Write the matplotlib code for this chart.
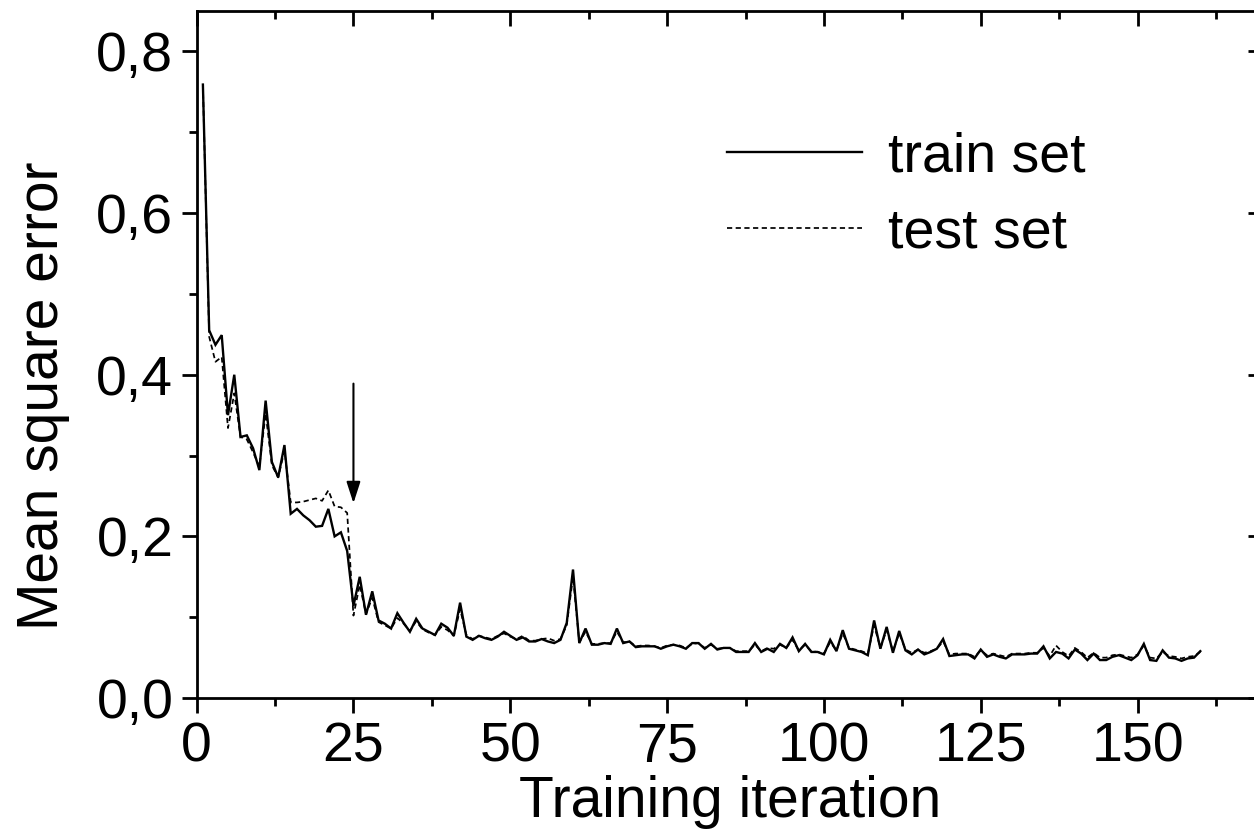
import matplotlib
matplotlib.use("Agg")
import matplotlib.pyplot as plt
from matplotlib.ticker import MultipleLocator, FuncFormatter
from matplotlib.lines import Line2D

plt.rcParams['font.family'] = ['Liberation Sans', 'DejaVu Sans']

iterations = list(range(1, 161))

train_mse = [
    0.759, 0.455, 0.437, 0.449, 0.350, 0.400, 0.323, 0.325, 0.309, 0.282,
    0.368, 0.292, 0.273, 0.313, 0.228, 0.234, 0.226, 0.220, 0.212, 0.213,
    0.234, 0.200, 0.205, 0.182, 0.114, 0.150, 0.103, 0.132, 0.096, 0.092,
    0.086, 0.105, 0.093, 0.082, 0.098, 0.086, 0.082, 0.078, 0.092, 0.087,
    0.077, 0.118, 0.076, 0.072, 0.077, 0.074, 0.072, 0.076, 0.082, 0.077,
    0.072, 0.075, 0.070, 0.070, 0.073, 0.070, 0.068, 0.072, 0.093, 0.159,
    0.068, 0.086, 0.066, 0.066, 0.068, 0.067, 0.086, 0.068, 0.070, 0.063,
    0.064, 0.064, 0.064, 0.061, 0.064, 0.066, 0.064, 0.061, 0.068, 0.068,
    0.061, 0.067, 0.060, 0.062, 0.062, 0.057, 0.057, 0.057, 0.068, 0.057,
    0.061, 0.057, 0.067, 0.062, 0.075, 0.058, 0.067, 0.057, 0.057, 0.054,
    0.072, 0.058, 0.084, 0.061, 0.059, 0.057, 0.053, 0.096, 0.061, 0.088,
    0.056, 0.083, 0.059, 0.054, 0.060, 0.054, 0.057, 0.061, 0.073, 0.052,
    0.053, 0.054, 0.054, 0.049, 0.060, 0.051, 0.054, 0.051, 0.049, 0.054,
    0.054, 0.054, 0.055, 0.055, 0.064, 0.049, 0.057, 0.055, 0.049, 0.060,
    0.055, 0.047, 0.055, 0.047, 0.047, 0.051, 0.053, 0.050, 0.047, 0.053,
    0.067, 0.047, 0.046, 0.059, 0.050, 0.049, 0.046, 0.049, 0.050, 0.058,
]

test_mse = [
    0.759, 0.447, 0.416, 0.422, 0.334, 0.377, 0.323, 0.320, 0.304, 0.286,
    0.352, 0.288, 0.273, 0.306, 0.242, 0.242, 0.243, 0.245, 0.247, 0.244,
    0.257, 0.237, 0.236, 0.229, 0.102, 0.140, 0.104, 0.124, 0.094, 0.090,
    0.086, 0.099, 0.092, 0.083, 0.095, 0.085, 0.081, 0.078, 0.088, 0.084,
    0.077, 0.110, 0.078, 0.073, 0.077, 0.075, 0.073, 0.077, 0.080, 0.076,
    0.073, 0.077, 0.071, 0.071, 0.073, 0.074, 0.071, 0.073, 0.090, 0.150,
    0.069, 0.082, 0.067, 0.067, 0.068, 0.068, 0.082, 0.069, 0.070, 0.064,
    0.065, 0.065, 0.064, 0.062, 0.065, 0.066, 0.065, 0.062, 0.067, 0.068,
    0.062, 0.066, 0.061, 0.062, 0.062, 0.058, 0.058, 0.058, 0.066, 0.058,
    0.062, 0.061, 0.066, 0.062, 0.072, 0.059, 0.066, 0.058, 0.057, 0.055,
    0.069, 0.059, 0.080, 0.062, 0.060, 0.058, 0.055, 0.090, 0.062, 0.084,
    0.058, 0.080, 0.060, 0.056, 0.060, 0.056, 0.058, 0.061, 0.070, 0.054,
    0.055, 0.055, 0.055, 0.051, 0.059, 0.053, 0.055, 0.053, 0.051, 0.055,
    0.055, 0.055, 0.056, 0.056, 0.062, 0.052, 0.065, 0.057, 0.052, 0.062,
    0.057, 0.050, 0.056, 0.050, 0.050, 0.053, 0.054, 0.052, 0.050, 0.054,
    0.065, 0.050, 0.049, 0.057, 0.052, 0.051, 0.049, 0.051, 0.052, 0.057,
]

arrow_x = 25
arrow_from = 0.389
arrow_to = 0.241

fs = 40

fig = plt.figure(figsize=(12.54, 8.4), dpi=100)
ax = fig.add_axes([0.1568, 0.1690, 0.8504, 0.8179])

ax.plot(iterations, train_mse, color='black', lw=1.7, solid_joinstyle='miter')
ax.plot(iterations, test_mse, color='black', lw=1.25, linestyle=(0, (3, 2)))

ax.annotate('', xy=(arrow_x, arrow_to), xytext=(arrow_x, arrow_from),
            arrowprops=dict(arrowstyle='-|>,head_length=1.3,head_width=0.42',
                            color='black', lw=1.5, shrinkA=0, shrinkB=0,
                            mutation_scale=10))

ax.set_xlim(0, 170)
ax.set_ylim(0, 0.85)

for s in ax.spines.values():
    s.set_linewidth(2)

ax.xaxis.set_major_locator(MultipleLocator(25))
ax.xaxis.set_minor_locator(MultipleLocator(12.5))
ax.yaxis.set_major_locator(MultipleLocator(0.2))
ax.yaxis.set_minor_locator(MultipleLocator(0.1))
ax.yaxis.set_major_formatter(FuncFormatter(lambda v, p: f"{v:.1f}".replace('.', ',')))
ax.tick_params(which='major', direction='out', length=10.8, width=2,
               labelsize=fs, pad=6)
ax.tick_params(which='minor', direction='out', length=5.8, width=2)

top = ax.secondary_xaxis('top')
top.xaxis.set_major_locator(MultipleLocator(25))
top.xaxis.set_minor_locator(MultipleLocator(12.5))
top.tick_params(which='major', direction='in', length=10.8, width=2, labeltop=False)
top.tick_params(which='minor', direction='in', length=5.8, width=2)

right = ax.secondary_yaxis('right')
right.yaxis.set_major_locator(MultipleLocator(0.2))
right.yaxis.set_minor_locator(MultipleLocator(10))
right.tick_params(which='major', direction='in', length=10.8, width=2, labelright=False)

fig.text(58 / 1254, 1 - 396 / 840, 'Mean square error', fontsize=41,
         rotation=90, rotation_mode='anchor', ha='center', va='baseline')
fig.text(730 / 1254, (840 - 817) / 840, 'Training iteration', fontsize=41,
         ha='center', va='baseline')

handles = [Line2D([], [], color='black', lw=1.7),
           Line2D([], [], color='black', lw=1.25, linestyle=(0, (3, 2)))]
ax.legend(handles, ['train set', 'test set'], loc='upper left',
          bbox_to_anchor=(0.4974, 0.824), frameon=False, fontsize=fs,
          handlelength=2.43, handletextpad=0.47, labelspacing=0.43,
          borderpad=0, borderaxespad=0)

fig.savefig('out.png', dpi=100)
